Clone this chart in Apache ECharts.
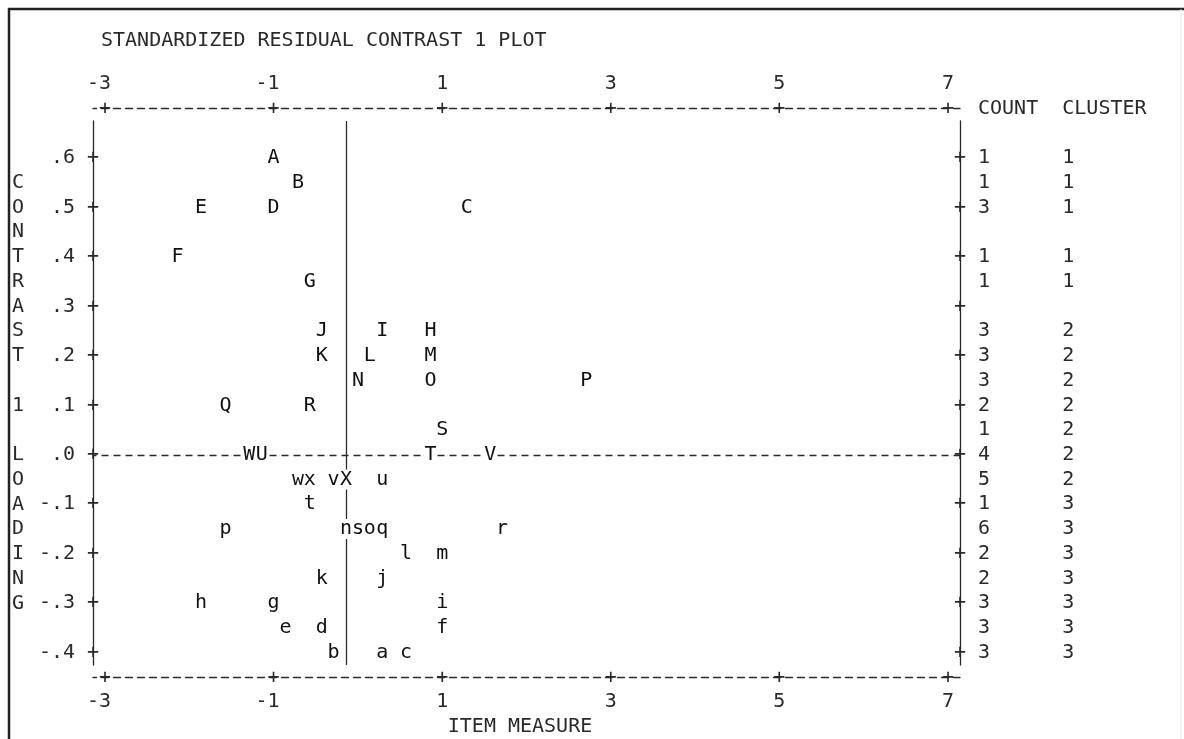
<!DOCTYPE html>
<html>
<head>
<meta charset="utf-8">
<script src="https://cdn.jsdelivr.net/npm/echarts@6/dist/echarts.min.js"></script>
<style>
  html, body { margin: 0; padding: 0; background: #fff; }
  #chart { width: 1184px; height: 739px; }
</style>
</head>
<body>
<div id="chart"></div>
<script>
// ---- data ----
const itemLabels = ['A','B','C','D','E','F','G','H','I','J','K','L','M','N','O','P','Q','R','S','T','U','V','W','X',
                    'a','b','c','d','e','f','g','h','i','j','k','l','m','n','o','p','q','r','s','t','u','v','w','x'];
const itemMeasure = [-1.00,-0.71,1.29,-1.00,-1.86,-2.14,-0.57,0.86,0.29,-0.43,-0.43,0.14,0.86,0.00,0.86,2.71,-1.57,-0.57,1.00,0.86,-1.14,1.57,-1.29,-0.14,
                     0.29,-0.29,0.57,-0.43,-0.86,1.00,-1.00,-1.86,1.00,0.29,-0.43,0.57,1.00,-0.14,0.14,-1.57,0.29,1.71,0.00,-0.57,0.29,-0.29,-0.71,-0.57];
const contrastLoading = [0.60,0.55,0.50,0.50,0.50,0.40,0.35,0.25,0.25,0.25,0.20,0.20,0.20,0.15,0.15,0.15,0.10,0.10,0.05,0.00,0.00,0.00,0.00,-0.05,
                         -0.40,-0.40,-0.40,-0.35,-0.35,-0.35,-0.30,-0.30,-0.30,-0.25,-0.25,-0.20,-0.20,-0.15,-0.15,-0.15,-0.15,-0.15,-0.15,-0.10,-0.05,-0.05,-0.05,-0.05];

const xTickValues = [-3, -1, 1, 3, 5, 7];
const xTickLabels = ['-3', '-1', '1', '3', '5', '7'];
const yTickValues = [0.6, 0.5, 0.4, 0.3, 0.2, 0.1, 0.0, -0.1, -0.2, -0.3, -0.4];
const yTickLabels = ['.6', '.5', '.4', '.3', '.2', '.1', '.0', '-.1', '-.2', '-.3', '-.4'];

const rowValues = [0.6,0.55,0.5,0.45,0.4,0.35,0.3,0.25,0.2,0.15,0.1,0.05,0.0,-0.05,-0.1,-0.15,-0.2,-0.25,-0.3,-0.35,-0.4];
const rowCounts = ['1','1','3','','1','1','','3','3','3','2','1','4','5','1','6','2','2','3','3','3'];
const rowClusters = ['1','1','1','','1','1','','2','2','2','2','2','2','2','3','3','3','3','3','3','3'];

const meanLine = -0.143;
const titleText = 'STANDARDIZED RESIDUAL CONTRAST 1 PLOT';
const xName = 'ITEM MEASURE';
const yName = 'CONTRAST 1 LOADING';
const tableHeader = 'COUNT  CLUSTER';

// ---- layout / style ----
const FONT = 'DejaVu Sans Mono';
const FS = 20;
const INK = '#2a2a2a';
const ROW = 24.75;
const xMin = -3 - 1/7, xMax = 7 + 1/7;
const yMin = -0.425, yMax = 0.675;

function pick(vals, labels, v) {
  for (let i = 0; i < vals.length; i++) if (Math.abs(vals[i] - v) < 1e-6) return labels[i];
  return '';
}
const txt = { fontFamily: FONT, fontSize: FS, color: INK };

const chart = echarts.init(document.getElementById('chart'), null, { renderer: 'canvas' });

const dashLine = { show: true, onZero: false, lineStyle: { color: INK, width: 1.3, type: [7, 5], dashOffset: 3.5 } };
const solidLine = { show: true, onZero: false, lineStyle: { color: INK, width: 1.3 } };
const noLine = { show: false, onZero: false };

const option = {
  backgroundColor: '#fff',
  animation: false,
  title: {
    text: titleText, left: 96, top: 24,
    textStyle: { fontFamily: FONT, fontSize: FS, fontWeight: 'normal', color: INK, lineHeight: 24 }
  },
  grid: { left: 93, right: 224, top: 121, bottom: 74, containLabel: false, outerBoundsMode: 'none' },
  xAxis: [
    { type: 'value', position: 'top', min: xMin, max: xMax, offset: 12.4,
      axisLine: dashLine, axisTick: { show: false }, splitLine: { show: false },
      name: tableHeader, nameLocation: 'end', nameGap: 18,
      nameTextStyle: Object.assign({ align: 'left', verticalAlign: 'middle' }, txt),
      axisLabel: Object.assign({ customValues: xTickValues, margin: ROW, verticalAlign: 'middle',
        formatter: v => { const s = pick(xTickValues, xTickLabels, v); return s.startsWith('-') ? s + ' ' : s; } }, txt) },
    { type: 'value', position: 'top', min: xMin, max: xMax, offset: 12.4,
      axisLine: noLine, axisTick: { show: false }, splitLine: { show: false },
      axisLabel: Object.assign({ customValues: xTickValues, margin: 0, verticalAlign: 'middle', formatter: () => '+' }, txt) },
    { type: 'value', position: 'bottom', min: xMin, max: xMax, offset: 12.4,
      axisLine: dashLine, axisTick: { show: false }, splitLine: { show: false },
      name: xName, nameLocation: 'middle', nameGap: 2 * ROW,
      nameTextStyle: Object.assign({ padding: [0, 13, 0, 0], verticalAlign: 'middle' }, txt),
      axisLabel: Object.assign({ customValues: xTickValues, margin: ROW, verticalAlign: 'middle',
        formatter: v => { const s = pick(xTickValues, xTickLabels, v); return s.startsWith('-') ? s + ' ' : s; } }, txt) },
    { type: 'value', position: 'bottom', min: xMin, max: xMax, offset: 12.4,
      axisLine: noLine, axisTick: { show: false }, splitLine: { show: false },
      axisLabel: Object.assign({ customValues: xTickValues, margin: 0, verticalAlign: 'middle', formatter: () => '+' }, txt) }
  ],
  yAxis: [
    { type: 'value', position: 'left', min: yMin, max: yMax,
      axisLine: solidLine, axisTick: { show: false }, splitLine: { show: false },
      name: yName.split('').join('\n'), nameLocation: 'middle', nameGap: 75, nameRotate: 0,
      nameTextStyle: Object.assign({ align: 'center', verticalAlign: 'middle', lineHeight: ROW }, txt),
      axisLabel: Object.assign({ customValues: yTickValues, margin: 18, align: 'right',
        formatter: v => pick(yTickValues, yTickLabels, v) }, txt) },
    { type: 'value', position: 'left', min: yMin, max: yMax,
      axisLine: noLine, axisTick: { show: false }, splitLine: { show: false },
      axisLabel: Object.assign({ customValues: yTickValues, margin: 0, align: 'center', formatter: () => '+' }, txt) },
    { type: 'value', position: 'right', min: yMin, max: yMax,
      axisLine: solidLine, axisTick: { show: false }, splitLine: { show: false },
      axisLabel: Object.assign({ customValues: yTickValues, margin: 0, align: 'center', formatter: () => '+' }, txt) },
    { type: 'value', position: 'right', min: yMin, max: yMax,
      axisLine: noLine, axisTick: { show: false }, splitLine: { show: false },
      axisLabel: Object.assign({ customValues: rowValues, margin: 18, align: 'left',
        formatter: v => { const c = pick(rowValues, rowCounts, v); const k = pick(rowValues, rowClusters, v);
                          return c === '' ? '' : c.padEnd(7, ' ') + k; } }, txt) }
  ],
  series: [
    {
      type: 'scatter',
      xAxisIndex: 0, yAxisIndex: 0,
      symbol: 'circle', symbolSize: 1,
      itemStyle: { color: 'rgba(0,0,0,0)' },
      silent: true,
      z: 5,
      data: itemLabels.map((n, i) => ({ name: n, value: [itemMeasure[i], contrastLoading[i]] })),
      label: Object.assign({ show: true, position: 'inside', formatter: '{b}',
        backgroundColor: '#fff', lineHeight: 20, padding: 0 }, txt, { color: '#111', opacity: 1 }),
      markLine: {
        silent: true, symbol: ['none', 'none'], label: { show: false },
        data: [
          { xAxis: meanLine, lineStyle: { color: INK, width: 1.3, type: 'solid' } },
          { yAxis: 0, lineStyle: { color: INK, width: 1.3, type: [7, 5], dashOffset: 3.5 } }
        ]
      }
    }
  ],
  graphic: [
    { type: 'polyline', silent: true, shape: { points: [[9, 739], [9, 9], [1184, 9]] },
      style: { stroke: '#222', lineWidth: 2.5, fill: null } },
    { type: 'line', silent: true, shape: { x1: 1181, y1: 9, x2: 1181, y2: 739 },
      style: { stroke: '#e8e8e8', lineWidth: 1 } }
  ]
};
chart.setOption(option);
</script>
</body>
</html>
